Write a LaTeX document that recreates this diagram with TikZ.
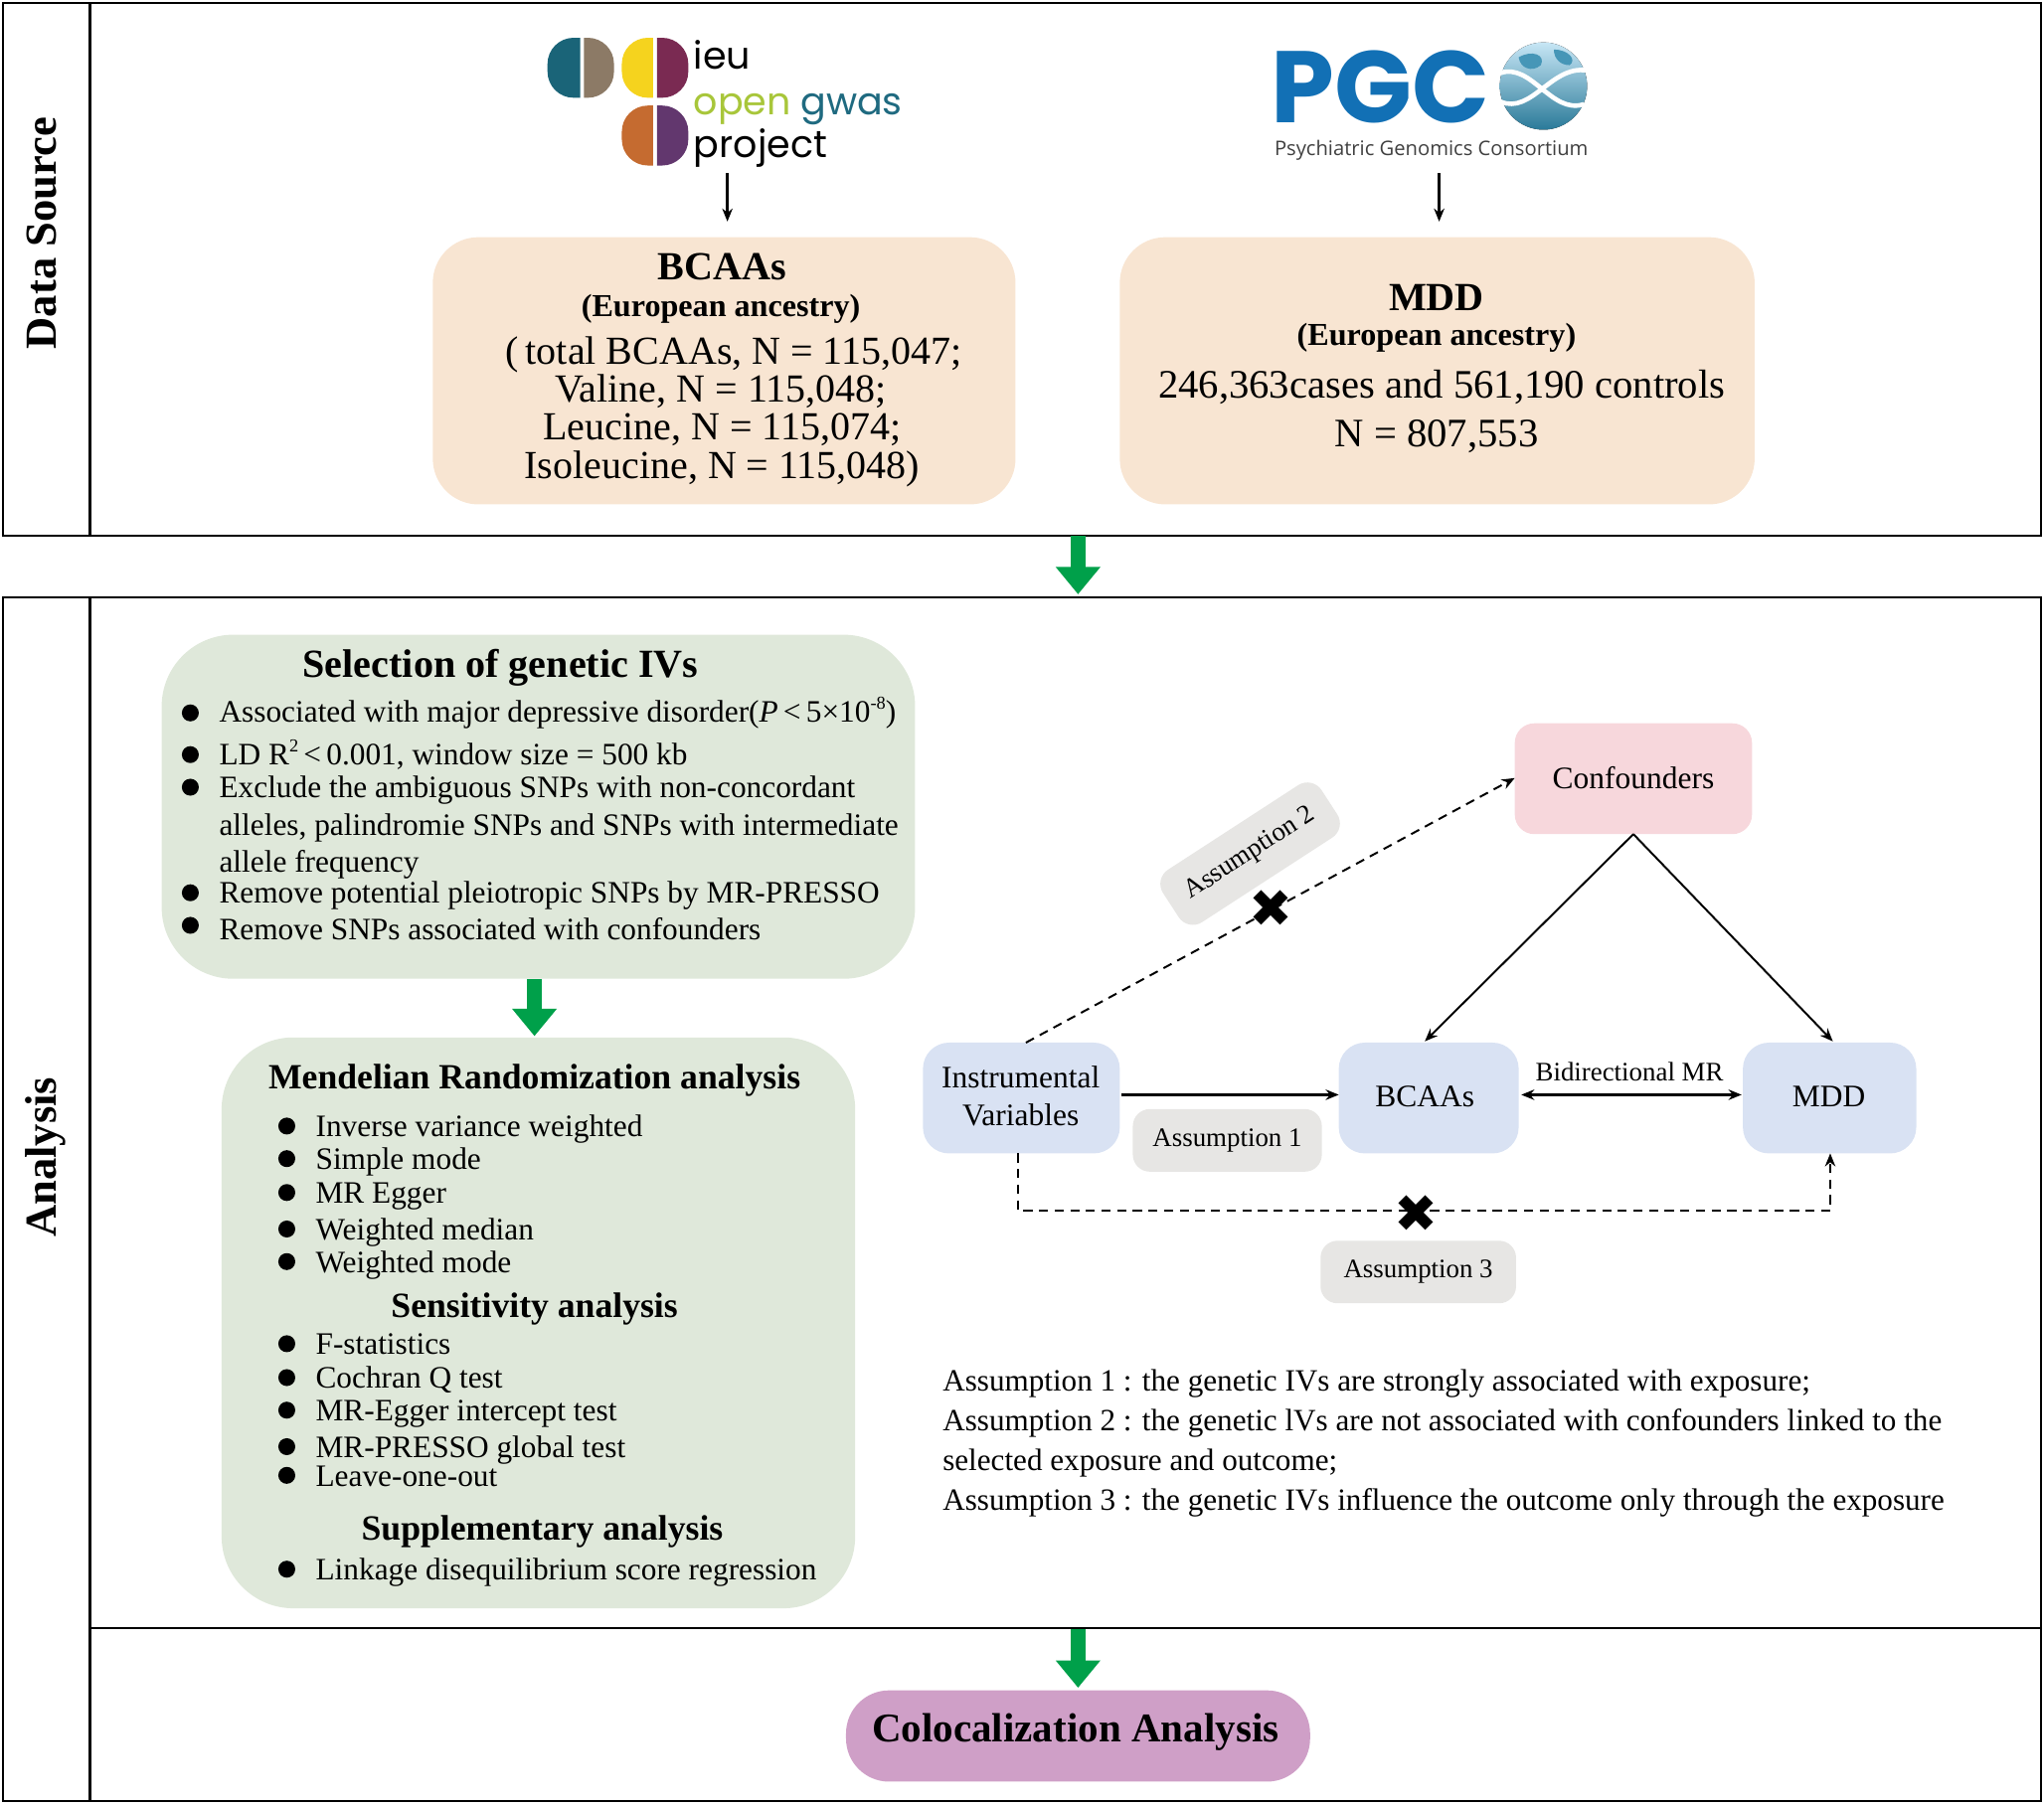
\documentclass[tikz,border=0pt]{standalone}
\usepackage{fontspec}
\setmainfont{Liberation Serif}
\newfontfamily\logofont{Poppins}
\newfontfamily\pgcfont{Poppins}
\newfontfamily\pgcsmall{Open Sans}
\newfontfamily\crossfont{DejaVu Sans}
\usetikzlibrary{arrows.meta}
\definecolor{framegreen}{HTML}{00A04A}
\definecolor{peach}{HTML}{F8E5D2}
\definecolor{sage}{HTML}{DFE8DA}
\definecolor{rosepink}{HTML}{F7D7DC}
\definecolor{paleblue}{HTML}{D9E2F3}
\definecolor{palegray}{HTML}{E7E6E4}
\definecolor{mauve}{HTML}{CF9FC7}
\definecolor{pgcblue}{HTML}{1270B5}
\definecolor{ieuteal}{HTML}{1A6478}
\definecolor{ieutaupe}{HTML}{8C7A66}
\definecolor{ieuyellow}{HTML}{F5D31E}
\definecolor{ieuplum}{HTML}{7A2A52}
\definecolor{ieuorange}{HTML}{C56B30}
\definecolor{ieupurple}{HTML}{62376E}
\definecolor{ieugreen}{HTML}{A8C63A}
\definecolor{ieublue}{HTML}{1F6A80}
\definecolor{globelight}{HTML}{C7E6F5}
\definecolor{globemid}{HTML}{6FBFE5}
\definecolor{globedark}{HTML}{2A7A99}
\newcommand{\fsize}[1]{\fontsize{#1}{#1}\selectfont}
\newcommand{\supsmall}[1]{\raisebox{0.9ex}{\fsize{14}#1}}
\tikzset{
  frame/.style={draw=black,line width=1.6pt},
  peachbox/.style={fill=peach,rounded corners=35pt,inner sep=0pt},
  sagebox/.style={fill=sage,rounded corners=55pt,inner sep=0pt},
  smallbox/.style={rounded corners=20pt,inner sep=0pt,minimum height=85pt},
  tagbox/.style={fill=palegray,rounded corners=13pt,inner sep=0pt,minimum height=48pt,font=\fsize{20.5}},
  txt/.style={inner sep=0pt,font=\fsize{23.9},anchor=base west},
  plain/.style={inner sep=0pt,font=\fsize{30.5}},
  anc/.style={inner sep=0pt,font=\fsize{24.5}\bfseries},
  head/.style={inner sep=0pt,font=\fsize{30.6}\bfseries},
  subhead/.style={inner sep=0pt,font=\fsize{27.2}\bfseries},
  dot/.style={circle,fill=black,inner sep=0pt,minimum size=13pt},
  greenarrow/.style={draw=framegreen,line width=11pt,-{Triangle[length=21pt,width=33pt]}},
  thinarrow/.style={line width=1.5pt,-{Stealth[length=10pt,width=8pt]}},
  dasharrow/.style={thinarrow,dash pattern=on 7pt off 5pt},
  cross/.style={inner sep=0pt,font=\crossfont\fsize{40}},
  logotxt/.style={inner sep=0pt,font=\logofont\fsize{29},anchor=base west},
}
\begin{document}
\begin{tikzpicture}[x=1pt,y=-1pt]
  \path[use as bounding box] (0,0) rectangle (1568,1384.2);

  % frames
  \draw[frame] (2,2) rectangle (1566,411);
  \draw[frame] (2,458) rectangle (1566,1382);
  \coordinate (topleft) at (69,2);
  \coordinate (topbot) at (69,411);
  \coordinate (anaTop) at (69,458);
  \coordinate (anaBot) at (69,1382);
  \coordinate (divL) at (69,1249);
  \coordinate (divR) at (1566,1249);
  \draw[frame] (topleft)--(topbot) (anaTop)--(anaBot) (divL)--(divR);
  \node[rotate=90,inner sep=0pt,font=\fsize{34}\bfseries] (srcLabel) at (32,179) {Data Source};
  \node[rotate=90,inner sep=0pt,font=\fsize{34}\bfseries] (anaLabel) at (35,888) {Analysis};

  % ieu logo
  \fill[ieuteal] (445,29) [rounded corners=20pt] -- (420,29) -- (420,75) [sharp corners] -- (445,75) -- cycle;
  \fill[ieutaupe] (448,29) [rounded corners=20pt] -- (471,29) -- (471,75) [sharp corners] -- (448,75) -- cycle;
  \fill[ieuyellow] (501,29) [rounded corners=20pt] -- (477,29) -- (477,75) [sharp corners] -- (501,75) -- cycle;
  \fill[ieuplum] (504,29) [rounded corners=20pt] -- (528,29) -- (528,75) [sharp corners] -- (504,75) -- cycle;
  \fill[ieuorange] (501,81) [rounded corners=20pt] -- (477,81) -- (477,127) [sharp corners] -- (501,127) -- cycle;
  \fill[ieupurple] (504,81) [rounded corners=20pt] -- (528,81) -- (528,127) [sharp corners] -- (504,127) -- cycle;
  \node[logotxt] (ieuA) at (532,53) {ieu};
  \node[logotxt,text=ieugreen] (ieuB) at (532,88) {open};
  \node[logotxt,text=ieublue] (ieuC) at (614,88) {gwas};
  \node[logotxt] (ieuD) at (532,121) {project};

  % pgc logo
  \node[inner sep=0pt,text=pgcblue,font=\pgcfont\fsize{78}\bfseries,anchor=base west] (pgcName) at (975,94) {PGC};
  \fill[top color=globelight,middle color=globemid,bottom color=globedark] (1184,66) circle (33.5);
  \fill[globedark!60!globemid] (1165,44) .. controls (1175,38) and (1186,42) .. (1182,50) .. controls (1175,56) and (1166,52) .. (1165,44);
  \fill[globedark!60!globemid] (1192,38) .. controls (1203,38) and (1210,46) .. (1204,50) .. controls (1197,50) and (1192,45) .. (1192,38);
  \draw[white,line width=3.5pt] (1151,78) .. controls (1175,88) and (1190,50) .. (1217,54);
  \draw[white,line width=3.5pt] (1151,56) .. controls (1175,48) and (1190,88) .. (1215,80);
  \node[inner sep=0pt,font=\pgcsmall\fsize{15.4},text=black!75] (pgcText) at (1098,115) {Psychiatric Genomics Consortium};

  % source boxes
  \node[peachbox,minimum width=447pt,minimum height=205pt] (bcaaBox) at (555.5,284.5) {};
  \node[peachbox,minimum width=487pt,minimum height=205pt] (mddBox) at (1102.5,284.5) {};
  \coordinate (ieuEnd) at (558,133);
  \coordinate (ieuTip) at (558,170);
  \coordinate (pgcEnd) at (1104,133);
  \coordinate (pgcTip) at (1104,170);
  \draw[thinarrow,line width=2pt] (ieuEnd)--(ieuTip);
  \draw[thinarrow,line width=2pt] (pgcEnd)--(pgcTip);
  \node[head] (bcaaHead) at (554,205) {BCAAs};
  \node[anc] (bcaaAnc) at (553,237) {(European ancestry)};
  \node[plain] (bcaaA) at (563,272) {(\,total BCAAs, N = 115,047;};
  \node[plain] (bcaaB) at (553,300) {Valine, N = 115,048;};
  \node[plain] (bcaaC) at (554,330) {Leucine, N = 115,074;};
  \node[plain] (bcaaD) at (554,360) {Isoleucine, N = 115,048)};
  \node[head] (mddHead) at (1102,228) {MDD};
  \node[anc] (mddAnc) at (1102,259) {(European ancestry)};
  \node[plain,font=\fsize{31}] (mddA) at (1106,297) {246,363cases and 561,190 controls};
  \node[plain,font=\fsize{31}] (mddB) at (1102,335) {N = 807,553};

  % green arrows
  \coordinate (gTopA) at (827,411);
  \coordinate (gTopB) at (827,456);
  \coordinate (gMidA) at (410,751);
  \coordinate (gMidB) at (410,795);
  \coordinate (gBotA) at (827,1250);
  \coordinate (gBotB) at (827,1295);
  \draw[greenarrow] (gTopA)--(gTopB);
  \draw[greenarrow] (gMidA)--(gMidB);
  \draw[greenarrow] (gBotA)--(gBotB);

  % selection of IVs
  \node[sagebox,minimum width=578pt,minimum height=264pt] (selBox) at (413,619) {};
  \node[head] (selHead) at (384,512) {Selection of genetic IVs};
  \foreach \i/\y in {1/547,2/579,3/604,4/685,5/710}
    \node[dot] (selDot\i) at (146,\y) {};
  \node[txt] (selA) at (168,554) {Associated with major depressive disorder(\textit{P}\,<\,5×10\supsmall{-8})};
  \node[txt] (selB) at (168,587) {LD R\supsmall{2}\,<\,0.001, window size = 500 kb};
  \node[txt] (selC) at (168,612) {Exclude the ambiguous SNPs with non-concordant};
  \node[txt] (selD) at (168,641) {alleles, palindromie SNPs and SNPs with intermediate};
  \node[txt] (selE) at (168,669) {allele frequency};
  \node[txt] (selF) at (168,693) {Remove potential pleiotropic SNPs by MR-PRESSO};
  \node[txt] (selG) at (168,721) {Remove SNPs associated with confounders};

  % MR analysis
  \node[sagebox,minimum width=486pt,minimum height=438pt] (mrBox) at (413,1015) {};
  \node[subhead] (mrHead) at (410,829) {Mendelian Randomization analysis};
  \node[subhead] (senHead) at (410,1004) {Sensitivity analysis};
  \node[subhead] (supHead) at (416,1175) {Supplementary analysis};
  \foreach \i/\y/\t in {1/864/Inverse variance weighted,2/889/Simple mode,3/915/MR Egger,4/943/Weighted median,5/968/Weighted mode,6/1031/F-statistics,7/1057/Cochran Q test,8/1082/MR-Egger intercept test,9/1110/MR-PRESSO global test,10/1132/Leave-one-out,11/1204/Linkage disequilibrium score regression}{
    \node[dot] (mrDot\i) at (220,\y) {};
    \node[txt,anchor=mid west] (mrItem\i) at (242,\y+6) {\t};
  }

  % MR diagram
  \node[smallbox,fill=rosepink,minimum width=182pt,rounded corners=15pt] (conf) at (1253,597.5) {};
  \node[inner sep=0pt,font=\fsize{24}] (confText) at (1253,597) {Confounders};
  \node[smallbox,fill=paleblue,minimum width=151pt] (iv) at (783.5,842.5) {};
  \node[inner sep=0pt,font=\fsize{24},align=center] (ivText) at (783,841) {Instrumental\\[5pt]Variables};
  \node[smallbox,fill=paleblue,minimum width=138pt] (bcaa) at (1096,842.5) {};
  \node[inner sep=0pt,font=\fsize{24}] (bcaaText) at (1093,841) {BCAAs};
  \node[smallbox,fill=paleblue,minimum width=133pt] (mdd) at (1403.5,842.5) {};
  \node[inner sep=0pt,font=\fsize{24}] (mddText) at (1403,841) {MDD};
  \node[tagbox,minimum width=145pt] (tagA) at (941.5,875) {Assumption 1};
  \node[tagbox,minimum width=145pt,rotate=33] (tagB) at (959,655) {Assumption 2};
  \node[tagbox,minimum width=150pt] (tagC) at (1088,976) {Assumption 3};
  \node[inner sep=0pt,font=\fsize{20.5}] (bidir) at (1250,822) {Bidirectional MR};

  \coordinate (ivTop) at (787,800);
  \coordinate (confLeft) at (1162,597);
  \coordinate (ivRight) at (860,840);
  \coordinate (bcaaLeft) at (1027,840);
  \coordinate (bcaaRight) at (1167,840);
  \coordinate (mddLeft) at (1336,840);
  \coordinate (confBot) at (1253,640);
  \coordinate (bcaaTop) at (1093,799);
  \coordinate (mddTop) at (1406,799);
  \coordinate (ivBot) at (781,885);
  \coordinate (mddBot) at (1404,885);
  \draw[dasharrow] (ivTop)--(confLeft);
  \draw[thinarrow,line width=2pt] (ivRight)--(bcaaLeft);
  \draw[thinarrow,line width=2pt,{Stealth[length=10pt,width=8pt]}-{Stealth[length=10pt,width=8pt]}] (bcaaRight)--(mddLeft);
  \draw[thinarrow] (confBot)--(bcaaTop);
  \draw[thinarrow] (confBot)--(mddTop);
  \draw[dasharrow] (ivBot)--(781,929)--(1404,929)--(mddBot);
  \node[cross] (crossA) at (975,697) {✖};
  \node[cross] (crossB) at (1086,931) {✖};

  % assumptions
  \node[txt,font=\fsize{23.75}] (noteA) at (723,1067) {Assumption 1 : the genetic IVs are strongly associated with exposure;};
  \node[txt,font=\fsize{23.75}] (noteB) at (723,1098) {Assumption 2 : the genetic lVs are not associated with confounders linked to the};
  \node[txt,font=\fsize{23.75}] (noteC) at (723,1128) {selected exposure and outcome;};
  \node[txt,font=\fsize{23.75}] (noteD) at (723,1159) {Assumption 3 : the genetic IVs influence the outcome only through the exposure};

  % colocalization
  \node[fill=mauve,rounded corners=33pt,inner sep=0pt,minimum width=356pt,minimum height=70pt] (colocBox) at (827,1332) {};
  \node[inner sep=0pt,font=\fsize{31.3}\bfseries] (colocText) at (825,1329) {Colocalization Analysis};
\end{tikzpicture}
\end{document}
